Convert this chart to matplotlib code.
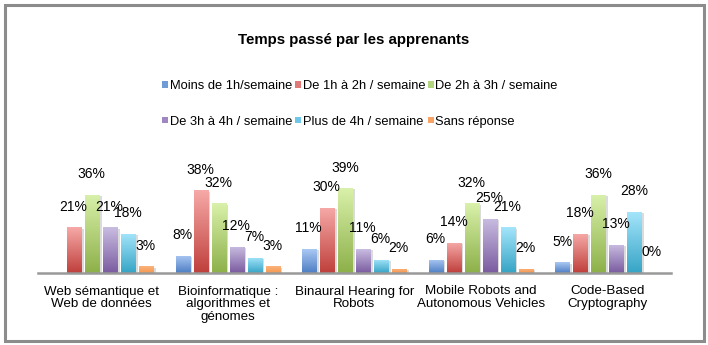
import numpy as np
import matplotlib
matplotlib.use("Agg")
import matplotlib.pyplot as plt
from matplotlib.colors import LinearSegmentedColormap
from matplotlib.patches import Rectangle, Patch
import matplotlib.patheffects as pe

plt.rcParams['font.family'] = ['Liberation Sans', 'DejaVu Sans']

# Survey data (percent of learners per course)
courses = ["Web sémantique et\nWeb de données",
           "Bioinformatique :\nalgorithmes et\ngénomes",
           "Binaural Hearing for\nRobots",
           "Mobile Robots and\nAutonomous Vehicles",
           "Code-Based\nCryptography"]
series_names = ["Moins de 1h/semaine", "De 1h à 2h / semaine", "De 2h à 3h / semaine",
                "De 3h à 4h / semaine", "Plus de 4h / semaine", "Sans réponse"]
moins_1h = [np.nan, 8, 11, 6, 5]
de_1h_2h = [21, 38, 30, 14, 18]
de_2h_3h = [36, 32, 39, 32, 36]
de_3h_4h = [21, 12, 11, 25, 13]
plus_4h = [18, 7, 6, 21, 28]
sans_reponse = [3, 3, 2, 2, 0]
values = [moins_1h, de_1h_2h, de_2h_3h, de_3h_4h, plus_4h, sans_reponse]

# (top, bottom) of each bar gradient, plus the legend swatch colour
grad_colors = [("#abc8f3", "#4d7ec3"),
               ("#f6aaa8", "#bf3f3b"),
               ("#d9f1aa", "#8db049"),
               ("#c9bde1", "#7a5b9f"),
               ("#a4e5fb", "#36a4c5"),
               ("#fbb47e", "#f5974f")]
swatch_colors = ["#6f9bd6", "#e07a77", "#b2d47c", "#9f88c2", "#6cc8e6", "#f8a266"]

fig = plt.figure(figsize=(7.08, 3.45), dpi=100)
ax = fig.add_axes([38 / 708, 72 / 345, 633 / 708, 98 / 345])

x = np.arange(len(courses))
slot = 18 / 126.6
width = 14.5 / 126.6
ymax = 45

ax.set_xlim(-0.5, len(courses) - 0.5)
ax.set_ylim(0, ymax)

gradient = np.linspace(0, 1, 256).reshape(-1, 1)
shadow = [pe.SimplePatchShadow(offset=(1.5, -1), shadow_rgbFace="#999999", alpha=0.35),
          pe.Normal()]

for i, vals in enumerate(values):
    vals = np.array(vals, dtype=float)
    pos = x + (i - 2.5) * slot
    top, bottom = grad_colors[i]
    cmap = LinearSegmentedColormap.from_list("g%d" % i, [bottom, top])
    bars = ax.bar(pos, np.nan_to_num(vals), width, color=bottom,
                  path_effects=shadow, zorder=2)
    for bar, v, p in zip(bars, vals, pos):
        if np.isnan(v):
            bar.set_visible(False)
            continue
        if v > 0:
            im = ax.imshow(gradient, cmap=cmap, origin="lower", aspect="auto",
                           extent=[p - width / 2, p + width / 2, 0, v], zorder=3)
            im.set_clip_path(bar)
        ax.annotate("%d%%" % v, (p, v), xytext=(-0.5, 14.8), textcoords="offset points",
                    ha="center", va="center", fontsize=10, color="black", zorder=4)

# imshow resets limits, put them back
ax.set_xlim(-0.5, len(courses) - 0.5)
ax.set_ylim(0, ymax)

ax.set_xticks(x)
ax.set_xticklabels(courses, fontsize=9.6, linespacing=1.1)
ax.tick_params(axis="x", length=0, pad=9)
ax.set_yticks([])
for side in ["top", "right", "left"]:
    ax.spines[side].set_visible(False)
ax.spines["bottom"].set_color("#999999")
ax.spines["bottom"].set_linewidth(1.8)
ax.spines["bottom"].set_zorder(5)

fig.text(0.5, 1 - 40 / 345, "Temps passé par les apprenants", ha="center", va="center",
         fontsize=10.8, fontweight="bold")

# legend fills by column, so feed entries in column order to get rows
order = [0, 3, 1, 4, 2, 5]
handles = [Patch(facecolor=swatch_colors[k], edgecolor="none") for k in order]
labels = [series_names[k] for k in order]
fig.legend(handles, labels, ncol=3, loc="center",
           bbox_to_anchor=(360 / 708, 1 - 104 / 345), frameon=False, fontsize=9.3,
           handlelength=0.45, handleheight=0.45, handletextpad=0.15,
           columnspacing=0.2, labelspacing=1.8, borderpad=0)

# outer frame
fig.patches.append(Rectangle((4.5 / 708, 4.5 / 345), 699 / 708, 336 / 345,
                             transform=fig.transFigure, fill=False,
                             edgecolor="#8c8c8c", linewidth=2.2))

fig.savefig("out.png", dpi=100)
